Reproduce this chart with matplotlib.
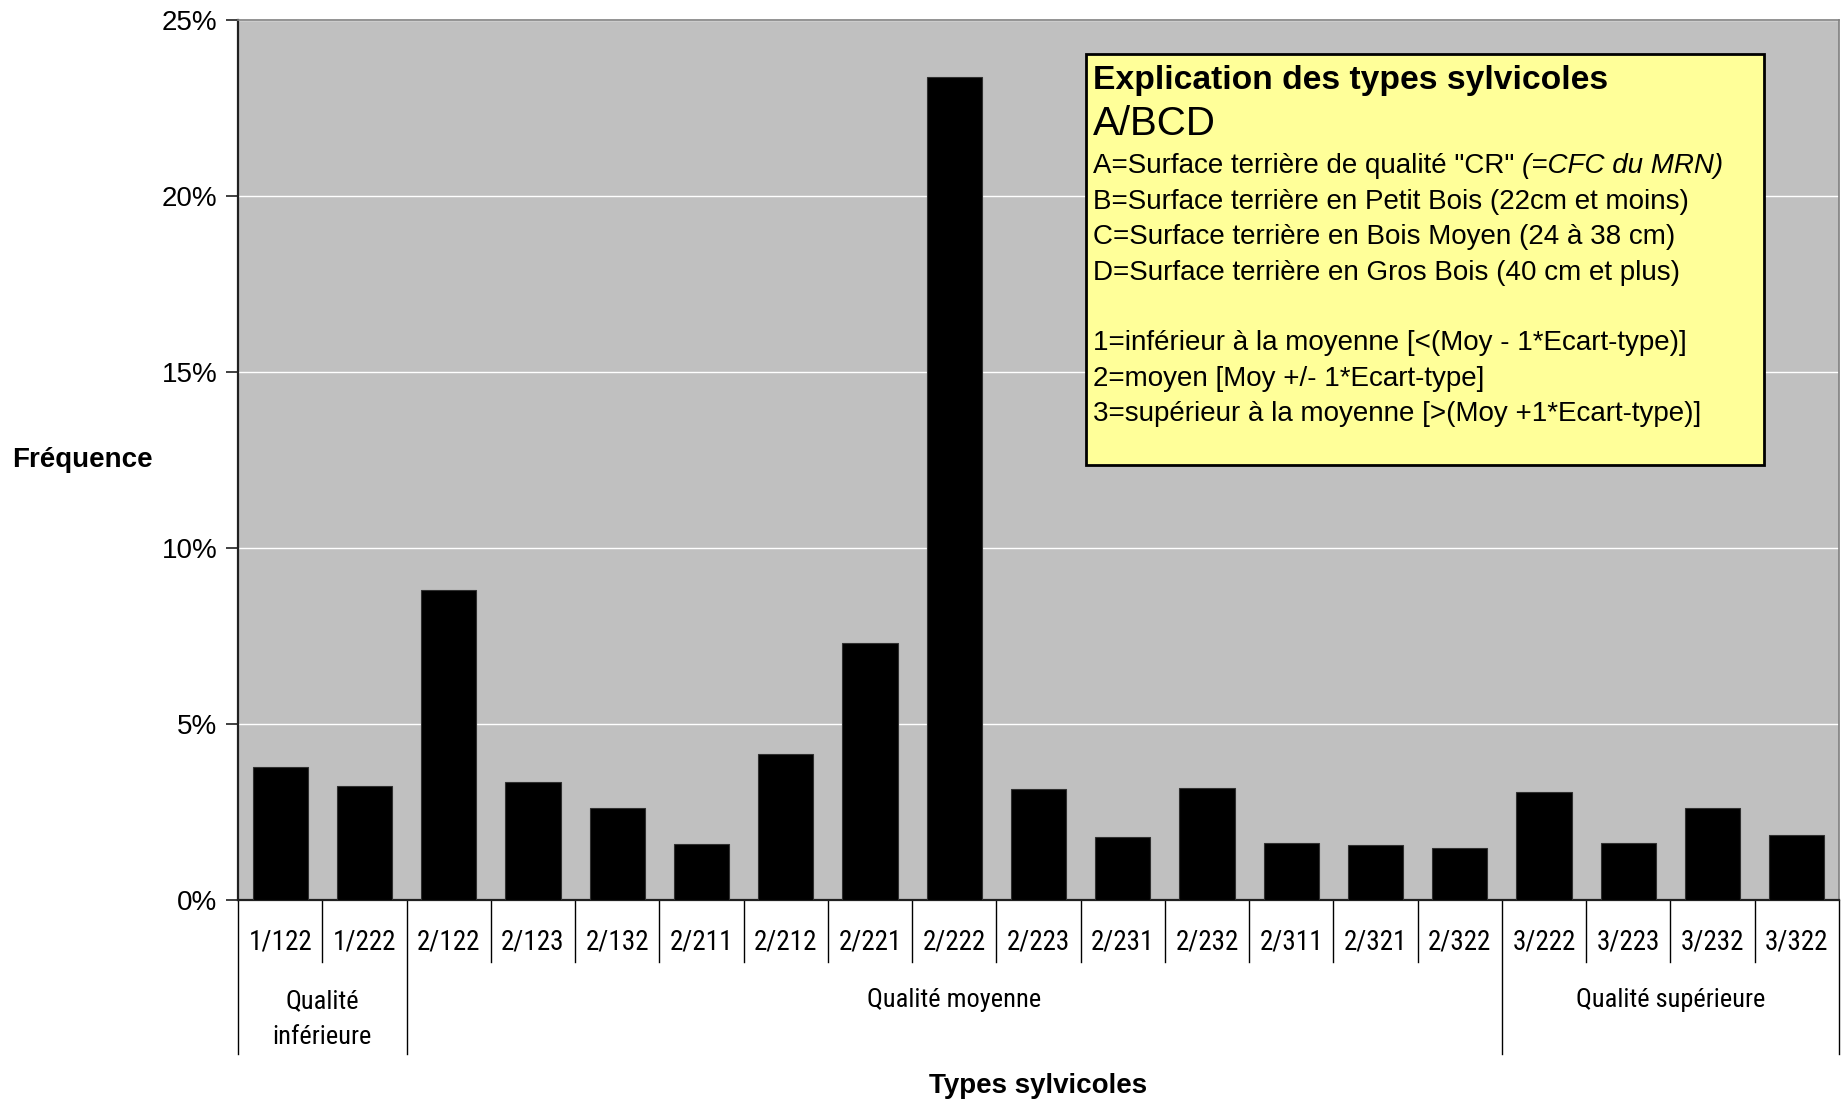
import matplotlib
matplotlib.use("Agg")
import matplotlib.pyplot as plt
from matplotlib.patches import Rectangle
from matplotlib.ticker import FuncFormatter, MultipleLocator
from matplotlib import font_manager

plt.rcParams['font.family'] = ['Liberation Sans', 'DejaVu Sans']

# Silvicultural types and their frequency (%)
types = ["1/122", "1/222", "2/122", "2/123", "2/132", "2/211", "2/212", "2/221",
         "2/222", "2/223", "2/231", "2/232", "2/311", "2/321", "2/322",
         "3/222", "3/223", "3/232", "3/322"]
freq = [3.77, 3.23, 8.81, 3.35, 2.60, 1.58, 4.16, 7.29,
        23.38, 3.15, 1.78, 3.19, 1.62, 1.55, 1.48,
        3.08, 1.62, 2.60, 1.86]

# Quality groups: label, first index, last index
groups = ["Qualité\ninférieure", "Qualité moyenne", "Qualité supérieure"]
group_first = [0, 2, 15]
group_last = [1, 14, 18]

# Prefer a condensed face for the category labels when one is installed
installed = {f.name for f in font_manager.fontManager.ttflist}
narrow = [f for f in ['Liberation Sans Narrow', 'Roboto Condensed', 'Open Sans Condensed']
          if f in installed] + ['Liberation Sans', 'DejaVu Sans']
has_narrow = narrow[0] != 'Liberation Sans'

W, H = 1845, 1101
fig = plt.figure(figsize=(W / 100, H / 100), dpi=100)
fig.patch.set_facecolor("white")

ax_l, ax_r, ax_t, ax_b = 238, 1839, 20, 900
ax = fig.add_axes([ax_l / W, 1 - ax_b / H, (ax_r - ax_l) / W, (ax_b - ax_t) / H])
ax.set_facecolor("#C0C0C0")

x = list(range(len(types)))
ax.bar(x, freq, width=0.655, color="black", edgecolor="#303030", linewidth=0.8, zorder=3)

ax.set_xlim(-0.5, len(types) - 0.5)
ax.set_ylim(0, 25)
ax.yaxis.set_major_locator(MultipleLocator(5))
ax.yaxis.set_major_formatter(FuncFormatter(lambda v, p: f"{v:.0f}%"))
ax.grid(axis="y", color="white", linewidth=1.0, zorder=1)
ax.set_axisbelow(True)

for side in ["top", "right"]:
    ax.spines[side].set_color("#808080")
    ax.spines[side].set_linewidth(1.2)
for side in ["left", "bottom"]:
    ax.spines[side].set_color("#202020")
    ax.spines[side].set_linewidth(1.6)

ax.tick_params(axis="y", direction="out", length=9, width=1.2, color="#202020",
               labelsize=20, pad=6)
ax.set_xticks([])

# Category separators and labels below the axis
trans = ax.get_xaxis_transform()
short_y = (ax_b - 962) / (ax_b - ax_t)
long_y = (ax_b - 1054) / (ax_b - ax_t)
boundaries = set([group_first[0] - 0.5] + [g + 0.5 for g in group_last])
for i in range(len(types) + 1):
    bx = i - 0.5
    y_end = long_y if bx in boundaries else short_y
    ax.plot([bx, bx], [0, y_end], color="black", linewidth=1.0,
            transform=trans, clip_on=False)

cat_size = 19.5 if has_narrow else 18
grp_size = 19 if has_narrow else 17.5
cat_y = (ax_b - 942) / (ax_b - ax_t)
for xi, lab in zip(x, types):
    ax.text(xi, cat_y, lab, transform=trans, ha="center", va="center",
            fontsize=cat_size, family=narrow)

for lab, a, b in zip(groups, group_first, group_last):
    yc = 1019 if "\n" in lab else 1000
    ax.text((a + b) / 2, (ax_b - yc) / (ax_b - ax_t), lab, transform=trans,
            ha="center", va="center", fontsize=grp_size, family=narrow, linespacing=1.6)

# Axis titles
fig.text((ax_l + ax_r) / 2 / W, 1 - 1086 / H, "Types sylvicoles", ha="center",
         va="center", fontsize=20, fontweight="bold")
fig.text(82 / W, 1 - 460 / H, "Fréquence", ha="center", va="center",
         fontsize=20, fontweight="bold")

# Explanation box
bx0, by0, bx1, by1 = 1086, 54, 1764, 465
fig.patches.append(Rectangle((bx0 / W, 1 - by1 / H), (bx1 - bx0) / W, (by1 - by0) / H,
                             transform=fig.transFigure, facecolor="#FFFF99",
                             edgecolor="black", linewidth=2, zorder=5))

tx = 1093 / W
body = 20
def put(ypix, s, **kw):
    return fig.text(tx, 1 - ypix / H, s, ha="left", va="center", zorder=6, **kw)

put(80, "Explication des types sylvicoles", fontsize=24.2, fontweight="bold")
put(124, "A/BCD", fontsize=29)
first = put(166, 'A=Surface terrière de qualité "CR" ', fontsize=body)
renderer = fig.canvas.get_renderer()
ext = first.get_window_extent(renderer)
fig.text(ext.x1 / W, 1 - 166 / H, "(=CFC du MRN)", ha="left", va="center",
         fontsize=body, style="italic", zorder=6)
put(202, "B=Surface terrière en Petit Bois (22cm et moins)", fontsize=body)
put(237, "C=Surface terrière en Bois Moyen (24 à 38 cm)", fontsize=body)
put(273, "D=Surface terrière en Gros Bois (40 cm et plus)", fontsize=body)
put(343, "1=inférieur à la moyenne [<(Moy - 1*Ecart-type)]", fontsize=body)
put(379, "2=moyen [Moy +/- 1*Ecart-type]", fontsize=body)
put(414, "3=supérieur à la moyenne [>(Moy +1*Ecart-type)]", fontsize=body)

fig.savefig("out.png", dpi=100)
